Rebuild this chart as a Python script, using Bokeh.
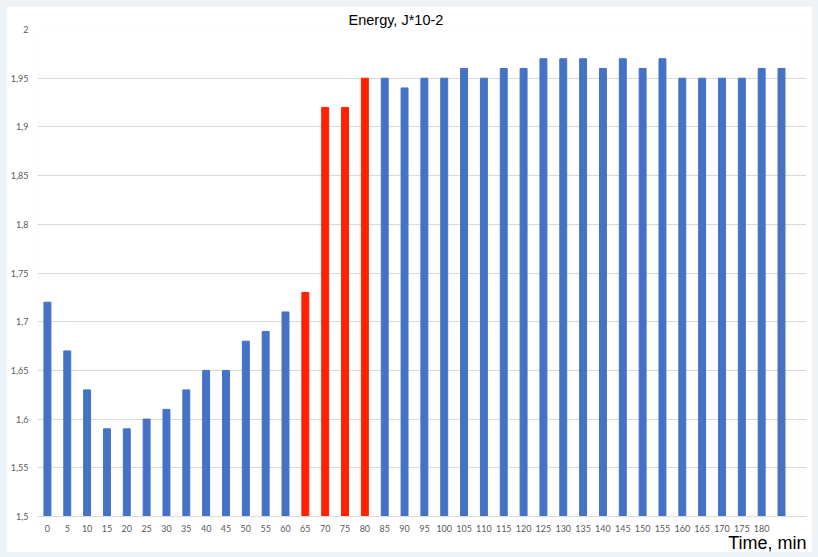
from bokeh.plotting import figure
from bokeh.layouts import column
from bokeh.models import Range1d, FixedTicker, CustomJSTickFormatter, Title, ColumnDataSource
from bokeh.embed import file_html
from bokeh.resources import INLINE

# ---- data ----
time_labels = ["0", "5", "10", "15", "20", "25", "30", "35", "40", "45", "50", "55", "60",
               "65", "70", "75", "80", "85", "90", "95", "100", "105", "110", "115", "120",
               "125", "130", "135", "140", "145", "150", "155", "160", "165", "170", "175",
               "180", ""]
energy = [1.72, 1.67, 1.63, 1.59, 1.59, 1.60, 1.61, 1.63, 1.65, 1.65, 1.68, 1.69, 1.71,
          1.73, 1.92, 1.92, 1.95, 1.95, 1.94, 1.95, 1.95, 1.96, 1.95, 1.96, 1.96,
          1.97, 1.97, 1.97, 1.96, 1.97, 1.96, 1.97, 1.95, 1.95, 1.95, 1.95,
          1.96, 1.96]
highlighted = ["65", "70", "75", "80"]
y_ticks = [1.5, 1.55, 1.6, 1.65, 1.7, 1.75, 1.8, 1.85, 1.9, 1.95, 2.0]
x_title = "Time, min"

BLUE = "#4472C4"
RED = "#FF2200"

idx = list(range(len(energy)))
colors = [RED if lab in highlighted else BLUE for lab in time_labels]
src = ColumnDataSource(dict(x=idx, top=energy, color=colors))

W, H = 806, 546
p = figure(width=W, height=H, output_backend="svg", toolbar_location=None,
           x_range=Range1d(-0.5, 38.26), y_range=Range1d(1.5, 2.0),
           min_border_left=31, min_border_right=6, min_border_top=23, min_border_bottom=36)

p.vbar(x="x", top="top", bottom=1.5, width=0.35, color="color", source=src)

p.title.text = "Energy, J*10-2"
p.title.align = "left"
p.title.offset = 311
p.title.text_font = "Liberation Sans"
p.title.text_font_size = "14.5px"
p.title.text_font_style = "normal"
p.title.text_color = "#000000"
p.title.standoff = 4

p.add_layout(Title(text=x_title, align="right", text_font="Liberation Sans",
                   text_font_size="18px", text_font_style="normal",
                   text_color="#000000", standoff=-7), "below")

p.outline_line_color = None
p.background_fill_color = "white"
p.border_fill_color = "white"

p.xgrid.grid_line_color = None
p.ygrid.grid_line_color = "#D9D9D9"
p.ygrid.ticker = FixedTicker(ticks=y_ticks)

p.yaxis.ticker = FixedTicker(ticks=y_ticks)
p.yaxis.formatter = CustomJSTickFormatter(code="""
var s = tick.toFixed(2).replace(/0+$/, '').replace(/\\.$/, '');
return s.replace('.', ',');
""")
p.yaxis.axis_line_color = None
p.yaxis.major_tick_line_color = None
p.yaxis.minor_tick_line_color = None
p.yaxis.major_tick_out = 0
p.yaxis.major_tick_in = 0
p.yaxis.minor_tick_out = 0
p.yaxis.major_label_text_font = "Lato"
p.yaxis.major_label_text_font_size = "9px"
p.yaxis.major_label_text_color = "#595959"
p.yaxis.major_label_standoff = 9

xa = p.xaxis[0]
xa.ticker = FixedTicker(ticks=list(range(len(time_labels) - 1)))
xa.major_label_overrides = {i: lab for i, lab in enumerate(time_labels)}
xa.axis_line_color = "#D9D9D9"
xa.major_tick_line_color = None
xa.minor_tick_line_color = None
xa.major_tick_out = 0
xa.major_tick_in = 0
xa.minor_tick_out = 0
xa.major_label_text_font = "Lato"
xa.major_label_text_font_size = "9px"
xa.major_label_text_color = "#595959"
xa.major_label_standoff = 8

page = column(p, styles={"background-color": "#EEF3F8", "padding": "6px"})

open("out.html", "w").write(file_html(page, INLINE))
